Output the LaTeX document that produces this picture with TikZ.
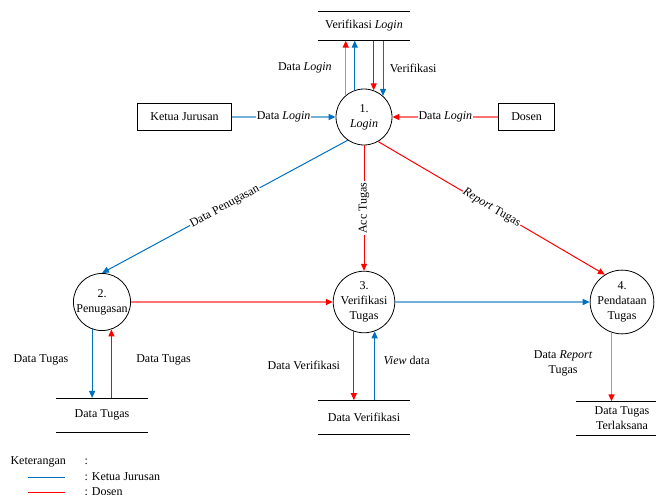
\documentclass[tikz,border=0pt]{standalone}
\usepackage{fontspec}
\setmainfont{Liberation Serif}
\usetikzlibrary{positioning,arrows.meta}
\definecolor{kjblue}{RGB}{0,112,192}
\definecolor{dsred}{RGB}{255,0,0}

\begin{document}
\begin{tikzpicture}[x=1pt,y=-1pt,font=\fontsize{12}{15}\selectfont,
    proc node/.style={circle,draw,line width=.8pt,minimum size=56pt,inner sep=0pt,align=center},
    ext node/.style={rectangle,draw,line width=.8pt,minimum height=27pt,inner xsep=12.5pt},
    store node/.style={minimum width=92pt,minimum height=34pt,inner sep=0pt,align=center,
      append after command={(\tikzlastnode.north west) edge[line width=.8pt] (\tikzlastnode.north east)
        (\tikzlastnode.south west) edge[line width=.8pt] (\tikzlastnode.south east)}},
    kj line/.style={draw=kjblue,line width=1pt,-{Triangle[length=7pt,width=6pt,color=kjblue]}},
    ds line/.style={draw=dsred,line width=1pt,-{Triangle[length=7pt,width=6pt,color=dsred]}},
    pale/.style={line width=1.4pt,draw=#1!55},
    on line/.style={fill=white,inner sep=1pt}]
    \useasboundingbox (0,0) rectangle (656,495);
    \clip (0,0) rectangle (656,495);

    \node[proc node] (1) at (364,117) {1.\\\textit{Login}};
    \node[proc node] (2) at (102,302) {2.\\Penugasan};
    \node[proc node] (3) at (364,302) {3.\\Verifikasi\\Tugas};
    \node[proc node] (4) at (622,302) {4.\\Pendataan\\Tugas};
    \node[ext node] (kj) [left = 104pt of 1] {Ketua Jurusan};
    \node[ext node] (dosen) [right = 106pt of 1] {Dosen};
    \node[store node,minimum height=29pt] (vl) [above = 48pt of 1] {Verifikasi \textit{Login}};
    \node[store node] (dt) [below = 67pt of 2] {Data Tugas};
    \node[store node] (dv) [below = 67pt of 3] {Data Verifikasi};
    \node[store node] (dtt) [below = 67pt of 4] {Data Tugas\\Terlaksana};

    % ketua jurusan
    \path[every edge/.append style={kj line}]
    (kj) edge[pale=kjblue] node[on line] {Data \textit{Login}} (1)
    (1.109) edge (1.109 |- vl.south)
    (vl.south -| 1.48) edge node[right=3pt] {Verifikasi} (1.48)
    (1.235) edge node[on line,sloped,pos=.5] {Data Penugasan} (2.north)
    (2.250) edge node[pos=.45,left=20pt] {Data Tugas} (2.250 |- dt.north)
    (dv.north -| 3.290) edge node[pos=.57,right=5pt] {\textit{View} data} (3.290)
    (3) edge[pale=kjblue] (4)
    ;
    % dosen
    \path[every edge/.append style={ds line}]
    (dosen) edge[pale=dsred] node[on line] {Data \textit{Login}} (1)
    (1.130) edge[pale=dsred] node[left=10pt] {Data \textit{Login}} (1.130 |- vl.south)
    (vl.south -| 1.70) edge (1.70)
    (1.south) edge node[on line,rotate=90] {Acc Tugas} (3.north)
    (1.300) edge node[on line,sloped] {\textit{Report} Tugas} (4.122)
    (dt.north -| 2.289) edge node[pos=.55,right=21pt] {Data Tugas} (2.289)
    (2) edge[pale=dsred] (3)
    (3.251) edge node[left=10pt] {Data Verifikasi} (3.251 |- dv.north)
    (4.251) edge[pale=dsred] node[pos=.45,left=15pt,align=center] {Data \textit{Report}\\Tugas} (4.251 |- dtt.north)
    ;

    % keterangan
    \node[anchor=west] (ket) at (7,462) {Keterangan};
    \node[anchor=west] (ketc) at (81,462) {:};
    \coordinate (kja) at (28,477);
    \coordinate (kjb) at (65,477);
    \coordinate (dsa) at (28,492);
    \coordinate (dsb) at (65,492);
    \draw[kjblue,line width=.8pt] (kja) -- (kjb);
    \draw[dsred,line width=.8pt] (dsa) -- (dsb);
    \node[anchor=west] (ketkj) at (81,477) {: Ketua Jurusan};
    \node[anchor=west] (ketds) at (81,492) {: Dosen};
\end{tikzpicture}
\end{document}
